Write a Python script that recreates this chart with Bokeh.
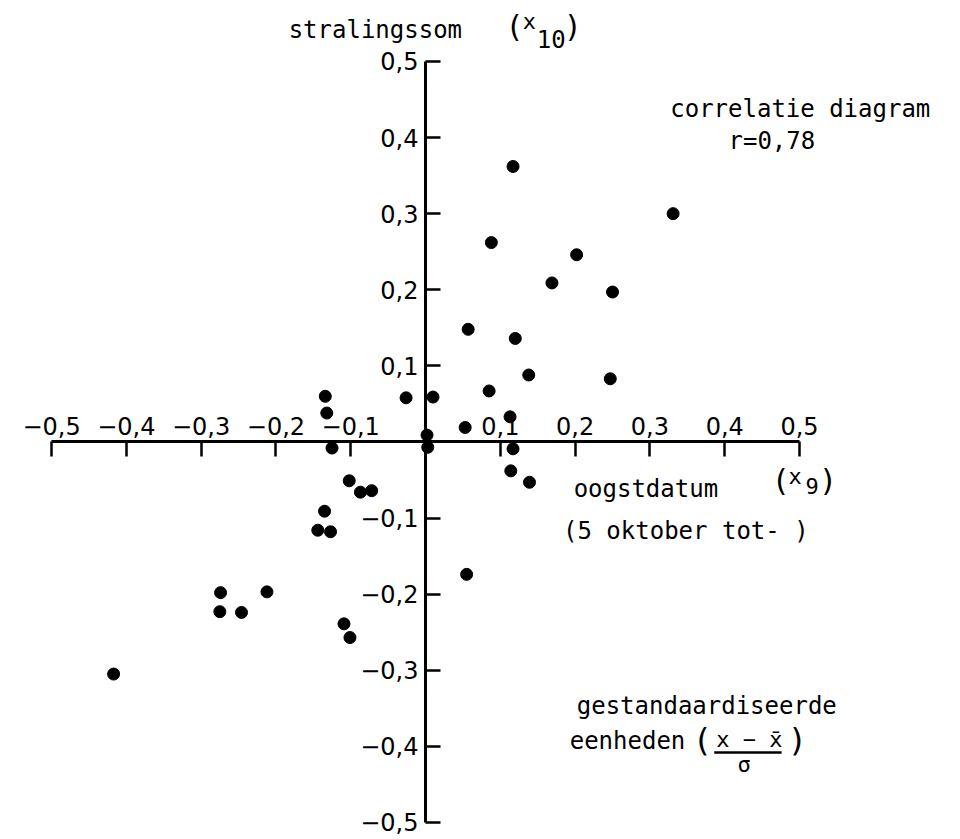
from bokeh.plotting import figure
from bokeh.models import (LinearAxis, FixedTicker, CustomJSTickFormatter, Label,
                          ColumnDataSource)
from bokeh.embed import file_html
from bokeh.resources import INLINE

# standardised units: harvest date (x9) against radiation sum (x10)
oogstdatum = [0.117, 0.331, 0.088, 0.202, 0.169, 0.250, 0.057, 0.120, 0.138,
              0.247, 0.085, -0.134, -0.132, -0.026, 0.010, 0.113, 0.053, 0.002,
              0.003, -0.125, 0.117, 0.114, 0.139, -0.102, -0.087, -0.072,
              -0.135, -0.144, -0.127, 0.055, -0.274, -0.212, -0.275, -0.246,
              -0.109, -0.101, -0.417]
stralingssom = [0.362, 0.300, 0.262, 0.246, 0.209, 0.197, 0.148, 0.136, 0.088,
                0.083, 0.067, 0.060, 0.038, 0.058, 0.059, 0.033, 0.019, 0.009,
                -0.007, -0.008, -0.009, -0.038, -0.053, -0.051, -0.066, -0.064,
                -0.091, -0.116, -0.118, -0.174, -0.198, -0.197, -0.223, -0.224,
                -0.239, -0.257, -0.305]

x_ticks = [-0.5, -0.4, -0.3, -0.2, -0.1, 0.1, 0.2, 0.3, 0.4, 0.5]
y_ticks = [-0.5, -0.4, -0.3, -0.2, -0.1, 0.1, 0.2, 0.3, 0.4, 0.5]

TICK_FONT = "DejaVu Sans"
TEXT_FONT = "DejaVu Sans Mono"

p = figure(width=960, height=839, x_range=(-0.5682, 0.7152),
           y_range=(-0.5224, 0.5801), output_backend="svg",
           toolbar_location=None, x_axis_type=None, y_axis_type=None,
           min_border=0)
p.outline_line_color = None
p.background_fill_color = "white"
p.border_fill_color = "white"

comma_fmt = CustomJSTickFormatter(code="""
    const s = Math.abs(tick).toFixed(1).replace('.', ',');
    return tick < 0 ? '\u2212' + s : s;
""")

common = dict(fixed_location=0, bounds=(-0.5, 0.5), formatter=comma_fmt,
              major_tick_in=15, major_tick_out=0, minor_tick_line_color=None,
              axis_line_width=3, axis_line_color="black",
              major_tick_line_width=2.5, major_tick_line_color="black",
              major_label_text_font=TICK_FONT, major_label_text_font_size="24px",
              major_label_text_color="black")

xa = LinearAxis(ticker=FixedTicker(ticks=x_ticks), major_label_standoff=7, **common)
ya = LinearAxis(ticker=FixedTicker(ticks=y_ticks), major_label_standoff=7, **common)
p.add_layout(xa, "above")
p.add_layout(ya, "left")

src = ColumnDataSource(data=dict(x=oogstdatum, y=stralingssom))
p.scatter("x", "y", source=src, size=12, color="black")


def add_text(x, y, text, size="24px", align="center", baseline="alphabetic"):
    p.add_layout(Label(x=x, y=y, text=text, text_font=TEXT_FONT,
                       text_font_size=size, text_color="black",
                       text_align=align, text_baseline=baseline))


# vertical axis title: stralingssom (x10)
add_text(-0.183, 0.541, "stralingssom", align="left")
add_text(0.119, 0.546, "(", size="30px", baseline="middle")
add_text(0.139, 0.552, "x", size="22px", baseline="middle")
add_text(0.168, 0.530, "10", size="24px")
add_text(0.197, 0.546, ")", size="30px", baseline="middle")

# horizontal axis title: oogstdatum (x9)
add_text(0.198, -0.062, "oogstdatum", align="left")
add_text(0.475, -0.051, "(", size="30px", baseline="middle")
add_text(0.494, -0.045, "x", size="22px", baseline="middle")
add_text(0.517, -0.058, "9", size="22px", baseline="middle")
add_text(0.538, -0.051, ")", size="30px", baseline="middle")
add_text(0.348, -0.117, "(5 oktober tot- )")

# header
add_text(0.501, 0.437, "correlatie diagram")
add_text(0.463, 0.396, "r=0,78")

# units note
add_text(0.376, -0.347, "gestandaardiseerde")
add_text(0.270, -0.393, "eenheden")
add_text(0.370, -0.392, "(", size="32px", baseline="middle")
add_text(0.433, -0.391, "x \u2212 x\u0304", size="22px")
p.line(x=[0.386, 0.476], y=[-0.408, -0.408], line_color="black", line_width=2.5)
add_text(0.426, -0.424, "\u03c3", size="22px", baseline="middle")
add_text(0.497, -0.392, ")", size="32px", baseline="middle")

open("out.html", "w").write(file_html(p, INLINE))
